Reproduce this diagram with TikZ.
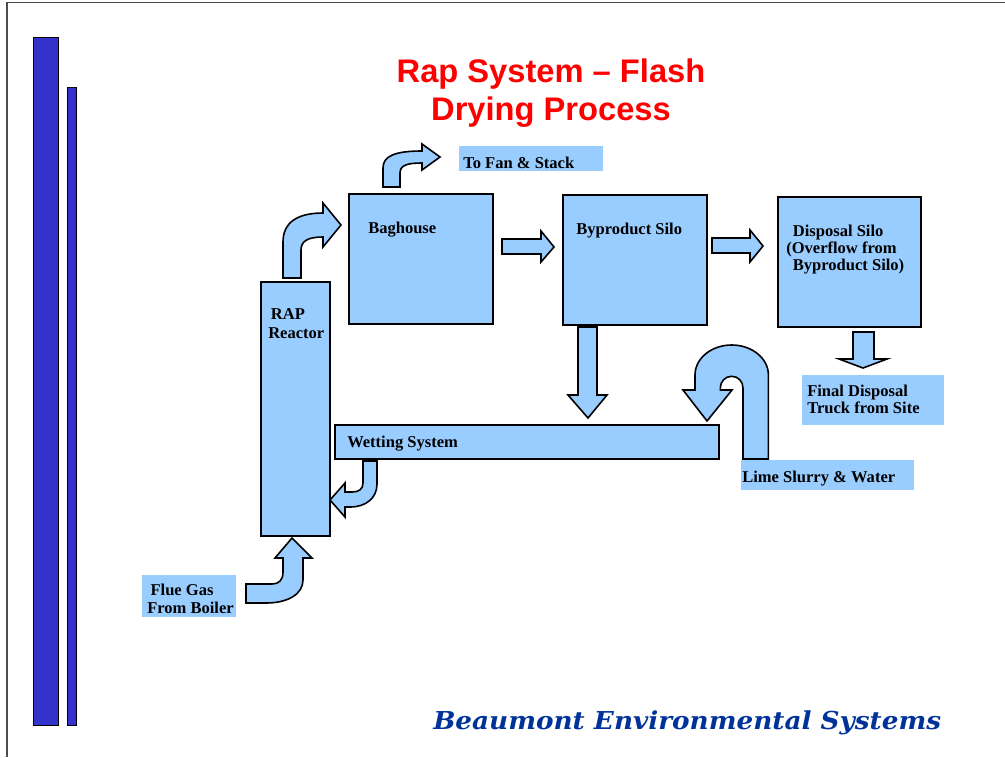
\documentclass[tikz,border=0pt]{standalone}
\usepackage{fontspec}
\usepackage{graphicx}
\setmainfont{Liberation Serif}
\newfontfamily\titlefont{Liberation Sans}
\newfontfamily\footfont{DejaVu Serif}
\definecolor{barblue}{HTML}{3333CC}
\definecolor{lblue}{HTML}{99CCFF}
\definecolor{footblue}{HTML}{003399}
\begin{document}
\begin{tikzpicture}[x=0.75pt,y=-0.75pt,
  box/.style={draw=black,line width=1.3pt,fill=lblue,inner sep=0,anchor=north west},
  tag/.style={fill=lblue,inner sep=0,anchor=north west},
  lbl/.style={font=\bfseries\fontsize{12.4}{12.6}\selectfont,inner sep=0,anchor=base west,align=left},
  barrow/.style={draw=black,line width=1.2pt,fill=lblue,line join=miter},
  bar/.style={draw=black,line width=0.8pt,fill=barblue,inner sep=0,anchor=north west}]
\useasboundingbox (0,0) rectangle (1005,757);
\draw[gray!60!black,line width=0.8pt] (7,757) -- (7,2.5) -- (1005,2.5);
% side bars
\node[bar,minimum width=18.75pt,minimum height=516pt] (bar1) at (33,37) {};
\node[bar,minimum width=6.75pt,minimum height=478.5pt] (bar2) at (67,87) {};
% title (base anchor = last line)
\node[font=\titlefont\bfseries\fontsize{24.5}{28.5}\selectfont,text=red,align=center,anchor=base,inner sep=0] (title) at (551,120) {Rap System – Flash\\Drying Process};
% boxes
\node[box,minimum width=108pt,minimum height=97.5pt] (bag) at (348,193) {};
\node[box,minimum width=108pt,minimum height=97.5pt] (byp) at (562,194) {};
\node[box,minimum width=107.25pt,minimum height=97.5pt] (disp) at (777,196) {};
\node[box,minimum width=51.75pt,minimum height=190.5pt] (rap) at (260,281) {};
\node[box,minimum width=288pt,minimum height=25.5pt] (wet) at (334,424) {};
% tags
\node[tag,minimum width=108pt,minimum height=18.75pt] (fanbox) at (459,146) {};
\node[tag,minimum width=106.5pt,minimum height=37.5pt] (finbox) at (802,375) {};
\node[tag,minimum width=129.75pt,minimum height=22.5pt] (limebox) at (741,460) {};
\node[tag,minimum width=70.5pt,minimum height=31.5pt] (fluebox) at (142,575) {};
% labels (multi-line: anchor at last baseline)
\node[lbl] (bagt) at (368,233) {Baghouse};
\node[lbl] (bypt) at (576,234) {Byproduct Silo};
\node[lbl] (dispt) at (786,270) {\hspace*{5pt}Disposal Silo\\(Overflow from\\\hspace*{5pt}Byproduct Silo)};
\node[lbl,font=\bfseries\fontsize{12.4}{13.7}\selectfont] (rapt) at (268,338) {\hspace*{2pt}RAP\\Reactor};
\node[lbl] (wett) at (347,447) {Wetting System};
\node[lbl] (fant) at (463,168) {To Fan \& Stack};
\node[lbl] (fint) at (807,413) {Final Disposal\\Truck from Site};
\node[lbl] (limet) at (742,482) {Lime Slurry \& Water};
\node[lbl,font=\bfseries\fontsize{12.4}{13}\selectfont] (fluet) at (147,613) {\hspace*{2.5pt}Flue Gas\\From Boiler};
% footer
\node[font=\footfont\bfseries\itshape\fontsize{18.5}{20}\selectfont,text=footblue,inner sep=0,anchor=base west] (foot) at (433,729) {\scalebox{1.065}[1]{Beaumont Environmental Systems}};
% block arrows
% reactor -> baghouse
\draw[barrow] (283,278) -- (283,242) .. controls (283,222) and (298,213) .. (323,213) -- (323,203) -- (341,225) -- (323,247) -- (323,237) .. controls (308,237) and (301,241) .. (301,250) -- (301,278) -- cycle;
% baghouse -> fan
\draw[barrow] (383,187) -- (383,168) .. controls (383,156) and (395,151) .. (422,151) -- (422,144) -- (440,157) -- (422,170) -- (422,163) .. controls (408,163) and (400,165) .. (400,173) -- (400,187) -- cycle;
% baghouse -> byproduct
\draw[barrow] (502,239) -- (541,239) -- (541,231) -- (554,247) -- (541,262) -- (541,254) -- (502,254) -- cycle;
% byproduct -> disposal
\draw[barrow] (712,238) -- (750,238) -- (750,230) -- (763,246) -- (750,262) -- (750,253) -- (712,253) -- cycle;
% byproduct -> wetting
\draw[barrow] (578,327) -- (597,327) -- (597,395) -- (607,395) -- (588,418) -- (568,395) -- (578,395) -- cycle;
% disposal -> final
\draw[barrow] (853,332) -- (874,332) -- (874,359) -- (887,359) -- (863,368) -- (839,359) -- (853,359) -- cycle;
% lime slurry U-turn
\draw[barrow] (743,459) -- (743,388) .. controls (743,381.5) and (738.2,376.3) .. (731.7,376.3) .. controls (725.2,376.3) and (720.3,381.5) .. (720.3,388) -- (720.3,390) -- (732,390) -- (707,421) -- (683,390) -- (695,390) -- (695,375) .. controls (695,358.4) and (711.4,345) .. (731.7,345) .. controls (752,345) and (768.4,358.4) .. (768.4,375) -- (768.4,459) -- cycle;
% wetting -> reactor
\draw[barrow] (363,461) -- (377,461) -- (377,484) .. controls (377,498) and (366,507) .. (350,507) -- (345,507) -- (345,517) -- (330,500) -- (345,483) -- (345,492) -- (352,492) .. controls (359,492) and (363,489) .. (363,483) -- cycle;
% flue gas -> reactor
\draw[barrow] (246,584) -- (272,584) .. controls (279,584) and (283,580) .. (283,572) -- (283,558) -- (275,558) -- (292,538) -- (312,558) -- (303,558) -- (303,580) .. controls (303,594) and (288,603) .. (266,603) -- (246,603) -- cycle;
\end{tikzpicture}
\end{document}
